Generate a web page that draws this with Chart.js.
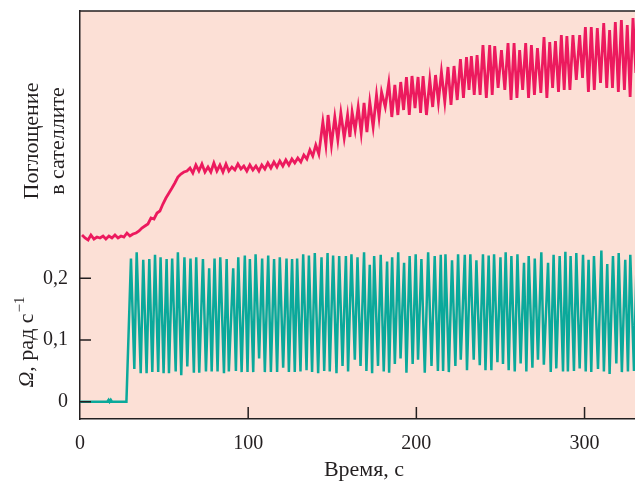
<!DOCTYPE html>
<html lang="ru">
<head>
<meta charset="UTF-8">
<title>Поглощение и угловая скорость</title>
<script src="https://cdn.jsdelivr.net/npm/chart.js"></script>
<style>
  html, body { margin: 0; padding: 0; background: #fff; }
  #wrap { width: 635px; height: 481px; position: relative; }
</style>
</head>
<body>
<div id="wrap"><canvas id="chart"></canvas></div>
<script>
// ось времени, с
const xTicks = [0, 100, 200, 300];
// угловая скорость, рад/с
const omegaTicks = [0, 0.1, 0.2];

// Ω(t): время, с
const tOmega = [
  0, 16.2, 17.0, 17.6, 18.3, 19.0, 27.6,
  30.3, 32.3, 33.7, 36.1, 37.6, 39.6, 41.2, 43.0, 44.6, 46.5, 47.9, 49.7, 51.5, 52.9,
  54.8, 56.9, 58.2, 60.2, 62.1, 63.8, 65.7, 67.7, 69.1, 70.9, 73.1, 74.9, 76.8, 78.3,
  80.0, 81.8, 83.4, 85.6, 87.2, 88.5, 91.1, 92.7, 94.1, 96.1, 98.0, 99.6, 101.0, 103.0,
  104.4, 106.5, 108.3, 109.9, 111.9, 113.5, 115.4, 117.2, 118.8, 120.8, 122.8, 124.2,
  126.1, 127.7, 129.1, 131.1, 132.7, 134.7, 136.1, 138.0, 139.6, 141.6, 143.6, 145.2,
  147.2, 148.5, 150.5, 152.5, 154.1, 156.1, 158.1, 159.4, 161.4, 163.4, 165.0, 166.8,
  168.9, 170.3, 172.3, 173.7, 174.9, 177.2, 178.8, 180.6, 182.6, 183.8, 185.6, 187.2,
  189.2, 190.6, 192.7, 194.1, 196.0, 197.8, 199.6, 201.0, 203.0, 205.0, 207.0, 209.0,
  210.9, 212.8, 214.5, 215.9, 217.3, 219.3, 221.2, 223.2, 224.8, 226.4, 228.8, 230.1,
  232.1, 234.1, 235.7, 237.7, 239.6, 241.1, 243.0, 244.6, 246.2, 248.2, 250.0, 251.5,
  253.1, 254.9, 256.5, 258.5, 260.1, 262.0, 264.0, 265.4, 266.8, 269.0, 270.4, 272.3,
  274.3, 275.8, 278.3, 279.9, 281.6, 283.2, 285.2, 287.2, 288.6, 290.1, 291.7, 293.7,
  295.1, 297.1, 299.1, 300.7, 302.4, 304.0, 305.6, 308.0, 310.0, 311.5, 313.5, 314.9,
  316.9, 318.9, 320.3, 322.2, 324.2, 325.8, 327.2, 329.4, 331.0
];
// Ω(t): рад/с
const omega = [
  0, 0, 0.003, 0, 0.003, 0, 0,
  0.232, 0.053, 0.242, 0.046, 0.230, 0.046, 0.231, 0.048, 0.238, 0.048, 0.234, 0.046, 0.231, 0.046,
  0.232, 0.049, 0.242, 0.043, 0.234, 0.057, 0.232, 0.047, 0.234, 0.047, 0.231, 0.049, 0.216, 0.049,
  0.232, 0.049, 0.234, 0.046, 0.231, 0.049, 0.216, 0.050, 0.234, 0.048, 0.237, 0.048, 0.231, 0.048,
  0.239, 0.070, 0.232, 0.048, 0.237, 0.048, 0.231, 0.048, 0.234, 0.055, 0.232, 0.048,
  0.231, 0.048, 0.232, 0.049, 0.239, 0.051, 0.237, 0.048, 0.241, 0.046, 0.234, 0.050,
  0.241, 0.049, 0.237, 0.046, 0.236, 0.058, 0.236, 0.049, 0.239, 0.068, 0.234, 0.058,
  0.242, 0.050, 0.222, 0.046, 0.236, 0.058, 0.238, 0.049, 0.227, 0.047, 0.234, 0.061,
  0.242, 0.070, 0.225, 0.047, 0.236, 0.061, 0.239, 0.068, 0.231, 0.047, 0.242, 0.058,
  0.236, 0.050, 0.238, 0.050, 0.239, 0.048, 0.229, 0.058, 0.239, 0.068, 0.238, 0.051,
  0.239, 0.068, 0.229, 0.059, 0.239, 0.051, 0.237, 0.051, 0.239, 0.064, 0.234, 0.061,
  0.242, 0.051, 0.236, 0.049, 0.239, 0.062, 0.225, 0.049, 0.236, 0.055, 0.232, 0.068,
  0.242, 0.060, 0.225, 0.048, 0.238, 0.054, 0.236, 0.049, 0.243, 0.049, 0.236, 0.050,
  0.241, 0.054, 0.238, 0.049, 0.230, 0.048, 0.236, 0.053, 0.245, 0.049, 0.223, 0.045,
  0.236, 0.062, 0.241, 0.048, 0.230, 0.049, 0.238, 0.050, 0.236
];

// поглощение в сателлите: время, с
const tAbs = [
  1.2, 3.0, 4.8, 6.5, 8.3, 10.1, 11.9, 13.7, 15.4, 17.2, 19.0, 20.8, 22.6, 24.4, 26.1,
  27.9, 29.7, 31.5, 33.3, 35.1, 36.8, 38.6, 40.4, 42.2, 44.0, 45.8, 47.5, 49.3, 51.1,
  52.9, 54.7, 56.4, 58.2, 60.0, 61.8, 63.6, 65.4, 67.1, 68.9, 70.7, 72.5, 74.3, 76.1,
  77.8, 79.6, 81.4, 83.2, 85.0, 86.8, 88.5, 90.3, 92.1, 93.9, 95.7, 97.4, 99.2, 101.0,
  102.8, 104.6, 106.4, 108.1, 109.9, 111.7, 113.5, 115.3, 117.1, 118.8, 120.6, 122.4,
  124.2, 126.0, 127.7, 129.5, 131.3, 133.1, 134.9, 136.7, 138.4, 140.2, 142.0, 144.4, 146.2,
  147.5, 149.5, 151.5, 153.3, 155.1, 157.1, 159.1, 160.5, 161.8, 163.6, 165.4, 167.2,
  168.9, 170.6, 172.3, 174.3, 176.3, 177.8, 179.3, 181.5, 183.6, 185.4, 187.2, 189.0,
  190.7, 192.4, 194.1, 195.8, 197.4, 199.2, 201.0, 202.5, 204.0, 206.0, 208.0, 209.7,
  211.4, 213.1, 214.9, 216.9, 218.8, 220.6, 222.4, 224.3, 226.2, 228.0, 229.8, 231.3,
  232.7, 234.4, 236.1, 237.9, 239.6, 241.6, 243.6, 245.1, 246.6, 248.6, 250.6, 252.6,
  254.5, 256.3, 258.1, 259.8, 261.4, 263.2, 265.0, 266.7, 268.4, 270.2, 272.0, 274.0,
  275.9, 277.6, 279.3, 281.0, 282.7, 284.5, 286.2, 287.9, 289.5, 291.3, 293.1, 295.1,
  297.1, 298.8, 300.5, 302.3, 304.0, 305.8, 307.6, 309.5, 311.4, 313.2, 314.9, 316.6,
  318.3, 320.1, 321.9, 323.7, 325.4, 327.1, 328.8, 330.5
];
// поглощение, отн. ед.
const absorb = [
  46.0, 45.25, 44.75, 46.0, 45.0, 45.5, 45.25, 45.75, 45.0, 45.75, 45.25, 46.0, 45.25, 45.75, 45.5,
  46.5, 45.75, 46.25, 46.5, 47.0, 47.75, 48.25, 48.75, 50.25, 50.0, 51.5, 52.0, 53.75, 55.25,
  56.5, 57.75, 59.0, 60.5, 61.25, 61.75, 62.0, 62.75, 61.5, 63.5, 62.0, 63.75, 61.75, 63.0,
  61.75, 64.0, 62.0, 63.5, 61.75, 63.75, 62.0, 63.0, 62.25, 63.75, 62.5, 63.25, 62.0, 63.5,
  62.25, 63.25, 62.0, 63.5, 62.5, 64.0, 62.75, 64.25, 63.0, 64.5, 63.25, 64.75,
  63.5, 65.0, 64.0, 65.25, 64.25, 66.0, 65.0, 67.25, 65.75, 68.5, 66.25, 74.25, 68.5,
  76.0, 68.5, 75.5, 69.75, 76.5, 70.25, 76.0, 70.5, 76.75, 72.25, 78.0, 71.5,
  79.0, 71.75, 79.25, 73.0, 81.0, 75.5, 81.75, 78.0, 84.0, 75.5, 83.5, 76.0,
  84.25, 77.25, 85.5, 76.0, 85.75, 77.75, 85.5, 76.5, 85.75, 76.0, 84.75, 78.0,
  86.0, 79.25, 86.75, 79.25, 88.0, 78.5, 88.25, 79.75, 90.0, 80.25, 90.5, 82.25,
  90.75, 81.0, 91.0, 81.0, 93.5, 80.25, 93.5, 81.0, 93.25, 82.75, 92.25, 82.25,
  94.0, 79.75, 94.0, 80.25, 92.25, 82.25, 94.0, 80.25, 93.5, 81.0, 92.75, 81.5,
  95.5, 80.25, 94.25, 82.75, 94.5, 81.75, 96.0, 82.25, 95.75, 82.25, 96.0, 84.75,
  96.0, 85.25, 98.0, 81.75, 98.0, 82.25, 97.75, 84.0, 99.0, 82.75, 97.25, 82.75,
  99.25, 81.75, 99.75, 82.25, 98.5, 80.5, 100.25, 86.5
];

const ink = '#231f20';
const serif = '"Liberation Serif", "DejaVu Serif", serif';

// фон, рамка сверху, внутренние засечки и подписи осей
const decor = {
  id: 'decor',
  beforeDraw(chart) {
    const { ctx, chartArea: a } = chart;
    ctx.save();
    ctx.fillStyle = '#fce0d6';
    ctx.fillRect(a.left, a.top, a.right - a.left, a.bottom - a.top);
    ctx.restore();
  },
  afterDatasetsDraw(chart) {
    const { ctx, chartArea: a, scales } = chart;
    ctx.save();
    ctx.strokeStyle = ink;
    ctx.lineWidth = 1.5;
    ctx.beginPath();
    ctx.moveTo(a.left, a.top);
    ctx.lineTo(a.right, a.top);
    omegaTicks.forEach(v => {
      const y = scales.y.getPixelForValue(v);
      ctx.moveTo(a.left, y);
      ctx.lineTo(a.left + 11, y);
    });
    xTicks.forEach(v => {
      if (v === 0) return;
      const x = scales.x.getPixelForValue(v);
      ctx.moveTo(x, a.bottom);
      ctx.lineTo(x, a.bottom - 12);
    });
    ctx.stroke();

    ctx.fillStyle = ink;
    ctx.font = '22px ' + serif;
    ctx.textBaseline = 'alphabetic';

    // x title
    ctx.textAlign = 'center';
    ctx.fillText('Время, с', 364, 476);

    // верхняя панель
    ctx.save();
    ctx.translate(38, 141);
    ctx.rotate(-Math.PI / 2);
    ctx.fillText('Поглощение', 0, 0);
    ctx.fillText('в сателлите', 0, 26);
    ctx.restore();

    // нижняя панель: Ω, рад с^-1
    ctx.save();
    ctx.translate(33, 342);
    ctx.rotate(-Math.PI / 2);
    ctx.textAlign = 'left';
    const it = 'italic 22px ' + serif;
    const rm = '22px ' + serif;
    const sm = '15px ' + serif;
    ctx.font = it; const w1 = ctx.measureText('Ω').width;
    ctx.font = rm; const w2 = ctx.measureText(', рад с').width;
    ctx.font = sm; const w3 = ctx.measureText('−1').width;
    let x0 = -(w1 + w2 + w3 + 1) / 2;
    ctx.font = it; ctx.fillText('Ω', x0, 0); x0 += w1;
    ctx.font = rm; ctx.fillText(', рад с', x0, 0); x0 += w2 + 1;
    ctx.font = sm; ctx.fillText('−1', x0, -9);
    ctx.restore();

    ctx.restore();
  }
};

new Chart(document.getElementById('chart'), {
  type: 'line',
  data: {
    datasets: [{
      label: 'Поглощение в сателлите',
      data: tAbs.map((t, i) => ({ x: t, y: absorb[i] })),
      yAxisID: 'ya',
      borderColor: '#ec1a5e',
      borderWidth: 2.8,
      pointRadius: 0,
      tension: 0
    }, {
      label: 'Ω',
      data: tOmega.map((t, i) => ({ x: t, y: omega[i] })),
      yAxisID: 'y',
      borderColor: '#0aa99b',
      borderWidth: 2.5,
      pointRadius: 0,
      tension: 0
    }]
  },
  options: {
    responsive: true,
    maintainAspectRatio: false,
    animation: false,
    devicePixelRatio: 1,
    layout: { padding: { top: 11, right: 0, left: 0, bottom: 0 } },
    plugins: { legend: { display: false }, tooltip: { enabled: false } },
    scales: {
      x: {
        type: 'linear',
        min: 0,
        max: 330,
        afterBuildTicks: s => { s.ticks = xTicks.map(v => ({ value: v })); },
        afterFit: s => { s.height = 62; s.paddingLeft = 0; s.paddingRight = 0; },
        grid: { display: false, drawTicks: false },
        border: { display: true, color: ink, width: 1.5 },
        ticks: {
          color: ink,
          padding: 13,
          maxRotation: 0,
          font: { family: serif, size: 20 },
          callback: v => String(v)
        }
      },
      y: {
        type: 'linear',
        position: 'left',
        min: -0.028,
        max: 0.633,
        afterBuildTicks: s => { s.ticks = omegaTicks.map(v => ({ value: v })); },
        afterFit: s => { s.width = 80; s.paddingTop = 0; s.paddingBottom = 0; },
        grid: { display: false, drawTicks: false },
        border: { display: true, color: ink, width: 1.5 },
        ticks: {
          color: ink,
          padding: 12,
          font: { family: serif, size: 20 },
          callback: v => v === 0 ? '0' : v.toFixed(1).replace('.', ',')
        }
      },
      ya: {
        type: 'linear',
        position: 'right',
        display: false,
        min: 0,
        max: 102
      }
    }
  },
  plugins: [decor]
});
</script>
</body>
</html>
